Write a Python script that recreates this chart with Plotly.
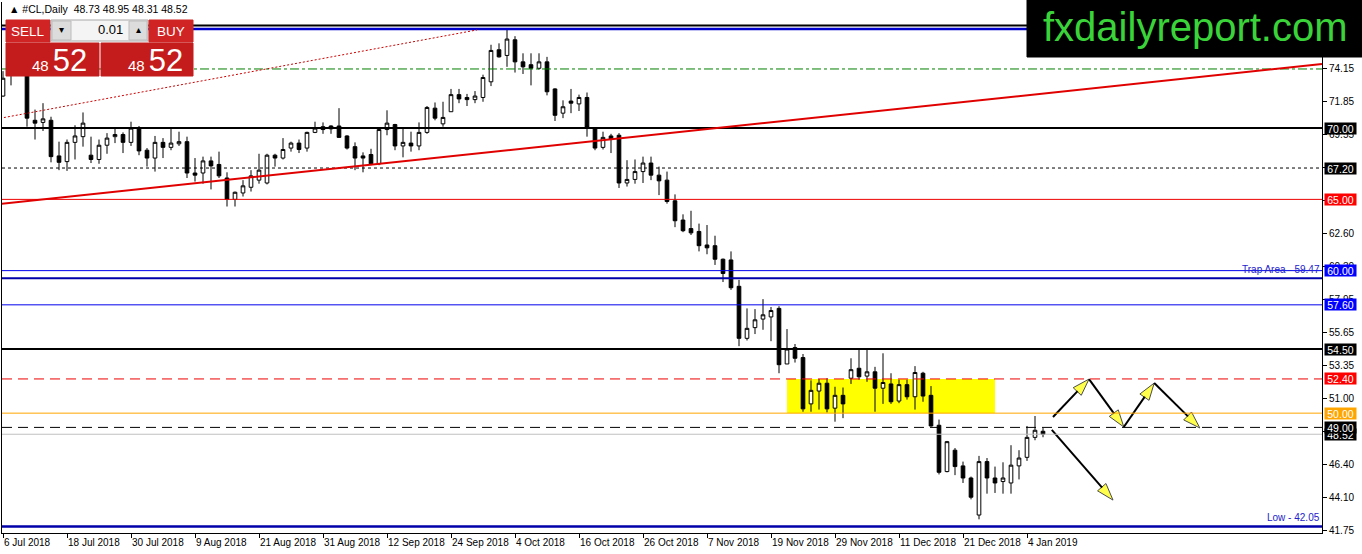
import pandas as pd
import plotly.graph_objects as go

# trading days on the chart: weekdays, no bars on 25 Dec and 1 Jan
dates = [d for d in pd.bdate_range("2018-07-06", "2019-01-08")
         if d.strftime("%m-%d") not in ("12-25", "01-01")]

opens = [72.25, 73.8, 74.0, 74.1, 70.55, 70.4, 70.55, 68.05, 67.65, 69.0,
         69.4, 68.1, 67.8, 68.8, 69.4, 69.55, 69.0, 70.0, 68.45, 67.9,
         69.0, 68.65, 68.9, 69.05, 66.85, 66.85, 67.7, 67.45, 66.5, 65.0,
         65.45, 65.85, 66.35, 66.15, 68.1, 67.9, 68.6, 68.95, 68.6, 69.7,
         70.1, 70.15, 70.15, 69.45, 68.7, 68.05, 68.15, 67.5, 69.9, 70.25,
         68.75, 68.95, 68.75, 69.7, 71.4, 70.3, 71.15, 72.35, 72.15, 72.0,
         72.15, 73.25, 75.5, 75.1, 76.2, 74.65, 74.45, 74.2, 74.65, 72.75,
         71.05, 71.9, 71.7, 72.15, 70.0, 68.65, 69.45, 69.5, 66.15, 66.4,
         66.95, 67.55, 66.7, 66.35, 64.9, 63.55, 62.95, 62.75, 61.8, 61.75,
         60.8, 60.75, 58.9, 55.25, 56.0, 56.6, 56.75, 57.35, 53.45, 54.6,
         53.9, 50.65, 51.55, 52.1, 50.35, 51.25, 52.45, 53.15, 52.6, 52.9,
         51.75, 52.05, 50.85, 52.0, 51.15, 52.8, 51.25, 49.15, 45.9, 47.4,
         46.3, 45.45, 42.85, 46.6, 45.45, 45.2, 45.1, 46.3, 46.9, 48.3,
         48.73]
highs = [74.0, 74.3, 74.6, 74.4, 71.3, 71.75, 70.8, 69.05, 69.2, 70.2,
         71.1, 69.4, 69.2, 69.65, 70.0, 69.7, 70.45, 70.15, 68.6, 69.45,
         69.3, 70.0, 69.75, 69.4, 67.9, 68.0, 68.0, 68.35, 66.9, 65.55,
         66.35, 67.05, 68.2, 68.2, 68.2, 69.3, 69.05, 69.2, 69.75, 70.45,
         70.4, 70.2, 71.4, 69.5, 69.0, 68.3, 68.55, 70.0, 71.25, 70.3,
         70.0, 69.75, 70.4, 71.55, 71.8, 71.85, 72.75, 72.75, 72.4, 72.6,
         73.75, 75.85, 75.95, 76.9, 76.45, 75.25, 75.25, 75.25, 75.0, 72.8,
         71.95, 72.75, 72.35, 72.5, 70.05, 69.75, 69.6, 69.65, 67.75, 67.8,
         68.0, 68.0, 67.3, 66.95, 65.35, 63.95, 64.2, 63.3, 63.2, 62.45,
         60.85, 61.35, 59.35, 57.35, 57.3, 58.0, 57.45, 57.5, 55.9, 54.85,
         54.15, 52.3, 52.4, 52.45, 51.85, 51.8, 53.85, 54.45, 54.5, 53.25,
         54.2, 52.8, 52.35, 52.35, 53.3, 52.9, 51.9, 49.55, 48.05, 47.55,
         46.6, 45.55, 47.0, 46.85, 46.25, 46.55, 47.75, 47.4, 49.1, 49.8,
         48.95]
lows = [72.2, 73.0, 73.7, 70.1, 69.2, 69.8, 67.6, 67.05, 67.0, 67.8,
        68.7, 67.55, 67.5, 68.2, 68.95, 68.25, 68.75, 68.1, 67.3, 66.95,
        67.9, 68.45, 68.75, 66.5, 66.25, 66.1, 65.7, 66.5, 64.5, 64.5,
        65.2, 65.55, 66.1, 66.05, 67.3, 67.8, 68.35, 68.25, 68.35, 69.65,
        69.6, 69.6, 69.35, 68.5, 67.05, 66.9, 67.4, 67.4, 69.5, 68.45,
        67.95, 68.35, 68.45, 69.6, 70.55, 70.1, 71.15, 71.75, 71.55, 71.75,
        71.85, 72.95, 74.95, 74.3, 73.9, 73.8, 73.0, 74.1, 72.3, 70.5,
        70.7, 71.05, 71.2, 69.4, 68.45, 68.5, 68.25, 65.8, 65.9, 66.1,
        66.15, 66.35, 65.3, 64.7, 63.05, 62.7, 62.5, 61.35, 61.15, 60.4,
        59.2, 58.65, 54.7, 55.1, 55.55, 55.85, 55.05, 52.8, 53.45, 53.55,
        50.1, 50.1, 50.25, 50.05, 49.4, 49.65, 52.05, 52.35, 52.2, 50.1,
        50.65, 50.65, 50.7, 50.95, 50.25, 50.8, 49.05, 45.7, 45.85, 45.65,
        45.1, 43.95, 42.55, 44.35, 44.4, 44.35, 44.35, 45.35, 46.65, 48.1,
        48.31]
closes = [73.5, 74.0, 74.2, 70.7, 70.35, 70.65, 68.0, 67.6, 69.0, 69.45,
          70.35, 67.8, 68.8, 69.3, 69.55, 69.0, 70.0, 68.4, 67.9, 69.0,
          68.65, 68.95, 69.05, 66.85, 66.7, 67.7, 67.35, 66.65, 65.0, 65.5,
          65.95, 66.65, 67.05, 68.1, 67.9, 68.5, 68.95, 68.5, 69.7, 70.0,
          69.9, 69.95, 69.35, 68.6, 67.9, 67.9, 67.5, 69.9, 70.35, 68.75,
          69.0, 68.75, 69.7, 71.45, 70.7, 70.75, 72.35, 72.05, 72.0, 72.25,
          73.55, 75.45, 75.0, 76.25, 74.65, 74.3, 74.2, 74.65, 72.55, 70.9,
          71.5, 71.75, 72.15, 70.05, 68.6, 69.35, 69.2, 66.15, 66.4, 66.95,
          67.55, 66.7, 66.3, 64.85, 63.5, 62.8, 62.65, 61.75, 61.6, 60.8,
          59.8, 58.8, 55.25, 55.95, 56.55, 56.9, 57.2, 53.4, 54.5, 53.85,
          50.3, 51.6, 52.1, 50.3, 51.25, 50.65, 53.05, 52.55, 52.9, 51.75,
          52.15, 50.8, 52.0, 51.15, 52.85, 51.2, 49.1, 45.85, 48.0, 46.25,
          45.45, 44.1, 46.6, 45.45, 45.1, 45.45, 46.35, 46.85, 48.3, 48.8,
          48.52]

y_ticks = [74.15, 71.85, 69.55, 67.25, 64.95, 62.60, 60.30, 57.95, 55.65,
           53.35, 51.00, 48.70, 46.40, 44.10, 41.75]

# drawn objects, in (bar number, price)
trend_red = ([-0.375, 164.875], [64.68, 74.50])
trend_dotted = ([-0.375, 59.25], [70.69, 76.89])
box_zone = ([98.0, 124.0], [50.00, 52.40])
path_up = ([131.25, 135.75, 140.1, 143.9, 149.6], [49.73, 52.39, 49.03, 52.11, 48.96])
path_down = ([131.1, 138.75], [48.82, 43.90])

# horizontal levels
top_black = 77.20
top_blue = 76.95
green_level = 74.15
black_levels = [70.00, 54.50]
dotted_level = 67.20
red_level = 65.00
blue_levels = [60.00, 57.60]
trap_level = 59.47
red_dash_level = 52.40
orange_level = 50.00
black_dash_level = 49.00
bid_level = 48.52
low_level = 42.05

price_tags = [(70.00, "black"), (67.20, "black"), (65.00, "#ff0000"),
              (60.00, "#0000ff"), (57.60, "#0000ff"), (54.50, "black"),
              (52.40, "#ff0000"), (50.00, "#ffa500"), (48.52, "black"),
              (49.00, "black")]

W, H = 1362, 554
PL, PT, PR, PB = 2, 2, 1322, 533
FONT = "Liberation Sans"


def px(x):
    return (x - PL) / (PR - PL)


def py(y):
    return 1 - (y - PT) / (PB - PT)


xs = list(range(len(dates)))

fig = go.Figure()
fig.add_trace(go.Candlestick(
    x=xs, open=opens, high=highs, low=lows, close=closes,
    increasing=dict(line=dict(color="black", width=1), fillcolor="white"),
    decreasing=dict(line=dict(color="black", width=1), fillcolor="black"),
    hoverinfo="skip", showlegend=False))

for xx, yy in (path_up, path_down):
    fig.add_trace(go.Scatter(
        x=xx, y=yy, mode="lines+markers", showlegend=False, hoverinfo="skip",
        line=dict(color="black", width=2),
        marker=dict(symbol="arrow", size=[0] + [18] * (len(xx) - 1),
                    angleref="previous", color="#ffff00",
                    line=dict(color="black", width=1))))

shapes = []


def hline(y, color, width=1, dash="solid"):
    shapes.append(dict(type="line", xref="paper", x0=0, x1=1, yref="y", y0=y, y1=y,
                       line=dict(color=color, width=width, dash=dash)))


shapes.append(dict(type="rect", xref="x", yref="y", layer="below",
                   x0=box_zone[0][0], x1=box_zone[0][1], y0=box_zone[1][0], y1=box_zone[1][1],
                   fillcolor="#ffff00", line=dict(width=0)))
hline(top_black, "black", 2)
hline(top_blue, "#0000cc", 2.5)
hline(green_level, "#008000", 1, "dashdot")
for v in black_levels:
    hline(v, "black", 2)
hline(dotted_level, "black", 1, "3px,3px")
hline(red_level, "#ee0000", 1)
for v in blue_levels:
    hline(v, "#0000ee", 1)
hline(trap_level, "#0000aa", 2)
hline(red_dash_level, "#ee0000", 1, "10px,6px")
hline(orange_level, "#ffa500", 1)
hline(black_dash_level, "black", 1, "10px,6px")
hline(bid_level, "#c0c0c0", 1)
hline(low_level, "#0000aa", 2.5)

shapes.append(dict(type="line", xref="x", yref="y",
                   x0=trend_red[0][0], x1=trend_red[0][1], y0=trend_red[1][0], y1=trend_red[1][1],
                   line=dict(color="#e00000", width=2)))
shapes.append(dict(type="line", xref="x", yref="y",
                   x0=trend_dotted[0][0], x1=trend_dotted[0][1],
                   y0=trend_dotted[1][0], y1=trend_dotted[1][1],
                   line=dict(color="#cc0000", width=1, dash="2px,2px")))


def rect(x0, y0, x1, y1, fill, line=None):
    shapes.append(dict(type="rect", xref="paper", yref="paper",
                       x0=px(x0), x1=px(x1), y0=py(y1), y1=py(y0),
                       fillcolor=fill, line=dict(color=line or fill, width=1)))


# one-click trading panel
rect(6, 20, 50, 42, "#d02424")
rect(51, 20, 148, 41, "#f4f4f4", "#a8a8a8")
rect(52, 21, 71, 40, "#dcdcdc", "#bcbcbc")
rect(129, 21, 147, 40, "#dcdcdc", "#bcbcbc")
rect(149, 20, 193, 42, "#d02424")
rect(6, 43, 99, 76, "#c41c1c")
rect(101, 43, 193, 76, "#c41c1c")
# logo box
rect(1027, 0, 1362, 57, "black")

annotations = []


def text(x, y, s, size=10, color="black", xanchor="center", **kw):
    annotations.append(dict(xref="paper", yref="paper", x=px(x), y=py(y), text=s,
                            showarrow=False, xanchor=xanchor, yanchor="middle",
                            font=dict(family=FONT, size=size, color=color), **kw))


text(7, 9, "▲ #CL,Daily  48.73 48.95 48.31 48.52", 10.5, xanchor="left")
text(28, 31, "SELL", 13.5, "white")
text(171, 31, "BUY", 13.5, "white")
text(61, 30, "▾", 10)
text(138, 30, "▴", 10)
text(125, 30, "0.01", 13, xanchor="right")
big = "<span style='font-size:15px'>48</span> <span style='font-size:31px'>52</span>"
text(59, 60, big, 15, "white")
text(155, 60, big, 15, "white")
text(1195, 27, "fxdailyreport.com", 40, "#3ad43a")

for v, bg in price_tags:
    annotations.append(dict(xref="paper", yref="y", x=px(PR + 2), y=v, text=f"{v:.2f}",
                            showarrow=False, xanchor="left", yanchor="middle",
                            width=31, height=11, bgcolor=bg, borderpad=0,
                            font=dict(family=FONT, size=10.5, color="white")))

for v, s in ((trap_level, "Trap Area - 59.47"), (low_level, "Low - 42.05")):
    annotations.append(dict(xref="paper", yref="y", x=px(PR), y=v, text=s,
                            showarrow=False, xanchor="right", yanchor="bottom", yshift=1,
                            font=dict(family=FONT, size=10, color="#2222cc")))

fig.update_layout(
    width=W, height=H,
    margin=dict(l=PL, r=W - PR, t=PT, b=H - PB, autoexpand=False),
    paper_bgcolor="white", plot_bgcolor="white",
    boxgap=0.35,
    shapes=shapes, annotations=annotations,
    font=dict(family=FONT, size=10, color="black"),
    xaxis=dict(range=[-0.125, 164.875], rangeslider=dict(visible=False),
               tickvals=xs[::8],
               ticktext=[f"{d.day} {d.strftime('%b %Y')}" for d in dates[::8]],
               ticks="outside", ticklen=4, tickcolor="black", tickangle=0,
               ticklabelposition="outside right",
               showgrid=False, zeroline=False, showline=True, linecolor="black",
               tickfont=dict(family=FONT, size=10)),
    yaxis=dict(side="right", range=[41.59, 78.85], tickvals=y_ticks,
               ticktext=[f"{v:.2f}" for v in y_ticks],
               ticks="outside", ticklen=4, tickcolor="black",
               showgrid=False, zeroline=False, showline=True, mirror=True,
               linecolor="black", tickfont=dict(family=FONT, size=10)),
)

# the page's default body margin would push the chart off the window
fig.write_html("out.html", config={"displayModeBar": False},
               post_script="document.body.style.margin='0';")
